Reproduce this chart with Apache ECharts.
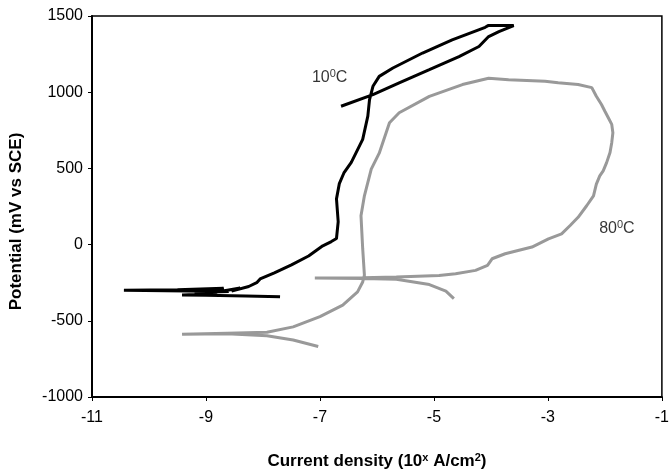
<!DOCTYPE html>
<html>
<head>
<meta charset="utf-8">
<script src="https://cdn.jsdelivr.net/npm/echarts@6/dist/echarts.min.js"></script>
<style>html,body{margin:0;padding:0;background:#fff}#c{width:672px;height:475px}</style>
</head>
<body>
<div id="c"></div>
<script>
// Tick settings
var xTicks = [-11, -9, -7, -5, -3, -1];
var yTicks = [-1000, -500, 0, 500, 1000, 1500];

// 10 °C polarisation curve: [log current density, potential mV]
var curve10C = [
  [-7.70,-343],[-8.30,-338],[-9.00,-333],[-9.42,-330],[-8.80,-322],[-9.20,-315],[-8.60,-308],
  [-10.44,-300],[-9.50,-297],[-8.69,-286],[-8.90,-318],[-8.40,-285],[-8.55,-305],[-8.25,-275],
  [-8.11,-250],[-8.05,-225],[-7.80,-185],[-7.50,-133],[-7.20,-75],[-6.95,-8],[-6.80,20],
  [-6.71,40],[-6.68,150],[-6.71,300],[-6.66,400],[-6.58,470],[-6.45,540],[-6.25,690],
  [-6.16,843],[-6.13,952],[-6.07,1039],[-5.96,1104],[-5.72,1159],[-5.20,1257],[-4.68,1343],
  [-4.10,1426],[-4.05,1437],[-3.60,1437],[-3.86,1398],[-4.04,1365],[-4.21,1300],[-4.56,1234],
  [-5.08,1148],[-5.61,1061],[-6.07,984],[-6.63,908]
];

// 80 °C polarisation curve
var curve80C = [
  [-7.03,-669],[-7.47,-626],[-7.93,-598],[-8.63,-585],[-9.42,-588],[-8.63,-581],[-7.93,-575],
  [-7.47,-540],[-7.00,-473],[-6.60,-397],[-6.34,-310],[-6.25,-245],[-6.22,-200],[-6.25,-27],
  [-6.28,190],[-6.22,320],[-6.10,495],[-5.96,600],[-5.78,800],[-5.61,865],[-5.08,973],
  [-4.50,1050],[-4.04,1092],[-3.69,1082],[-3.05,1072],[-2.82,1062],[-2.47,1050],[-2.23,1030],
  [-2.15,973],[-2.06,919],[-2.00,875],[-1.94,832],[-1.88,789],[-1.86,734],[-1.88,669],
  [-1.91,604],[-1.97,538],[-2.03,484],[-2.09,451],[-2.15,397],[-2.20,320],[-2.32,255],
  [-2.47,179],[-2.61,125],[-2.76,70],[-2.99,38],[-3.28,-16],[-3.75,-60],[-3.98,-93],
  [-4.06,-136],[-4.27,-169],[-4.62,-191],[-4.91,-202],[-5.66,-212],[-6.25,-218],[-7.09,-219],
  [-6.25,-222],[-5.66,-228],[-5.08,-262],[-4.79,-305],[-4.65,-354]
];

// Curve label positions (data coordinates)
var label10C = [-6.83, 1095];
var label80C = [-1.79, 103];

var chart = echarts.init(document.getElementById('c'));
var font = 'Liberation Sans, Arial, sans-serif';
var supRich = {
  sup: {fontSize: 11, fontFamily: font, padding: [0, 0, 7, 0], color: '#000'},
  n: {fontSize: 16, fontFamily: font, color: '#000'}
};
chart.setOption({
  animation: false,
  backgroundColor: '#fff',
  grid: {left: 91, right: 8, top: 16, bottom: 76, show: true, borderColor: '#000', borderWidth: 1.5},
  xAxis: {
    type: 'value', min: xTicks[0], max: xTicks[xTicks.length - 1], interval: 2,
    splitLine: {show: false},
    axisLine: {onZero: false, lineStyle: {color: '#000', width: 2}},
    axisTick: {length: 4, lineStyle: {color: '#000'}},
    axisLabel: {color: '#000', fontSize: 16, fontFamily: font, margin: 13,
      formatter: function (v) { return String(v); }},
    name: 'Current density (10{sup|x} A/cm{sup|2})',
    nameLocation: 'middle', nameGap: 55,
    nameTextStyle: {color: '#000', fontSize: 17, fontWeight: 'bold', fontFamily: font,
      rich: {sup: {fontSize: 11, fontWeight: 'bold', fontFamily: font, padding: [0, 0, 8, 0], color: '#000'}}}
  },
  yAxis: {
    type: 'value', min: yTicks[0], max: yTicks[yTicks.length - 1], interval: 500,
    splitLine: {show: false},
    axisLine: {onZero: false, lineStyle: {color: '#000', width: 2}},
    axisTick: {length: 4, lineStyle: {color: '#000'}},
    axisLabel: {color: '#000', fontSize: 16, fontFamily: font, margin: 9,
      formatter: function (v) { return String(v); }},
    name: 'Potential (mV vs SCE)', nameLocation: 'middle', nameGap: 67,
    nameTextStyle: {color: '#000', fontSize: 17, fontWeight: 'bold', fontFamily: font, padding: [0, 0, 0, -30]}
  },
  series: [
    {type: 'line', data: curve10C, showSymbol: false, symbol: 'none',
      lineStyle: {color: '#000', width: 3}, z: 3},
    {type: 'line', data: curve80C, showSymbol: false, symbol: 'none',
      lineStyle: {color: '#999', width: 3}, z: 2},
    {type: 'scatter', symbolSize: 0, silent: true,
      data: [
        {value: label10C, label: {show: true, position: 'inside', formatter: '{n|10}{sup|0}{n|C}', rich: supRich}},
        {value: label80C, label: {show: true, position: 'inside', formatter: '{n|80}{sup|0}{n|C}', rich: supRich}}
      ]}
  ]
});
</script>
</body>
</html>
